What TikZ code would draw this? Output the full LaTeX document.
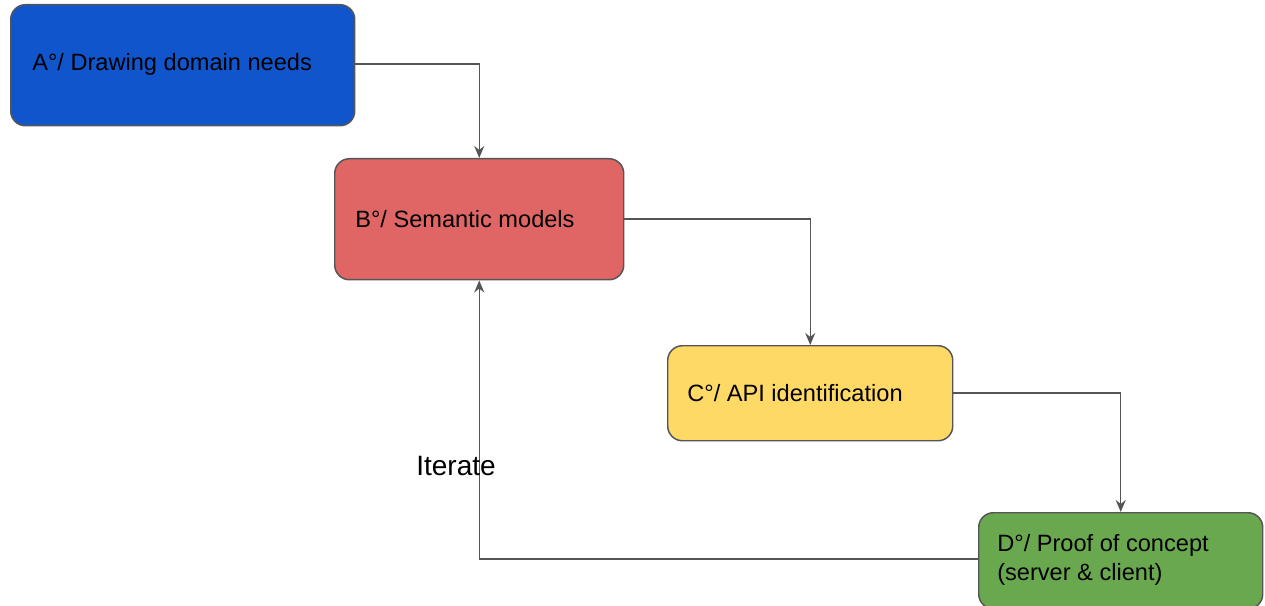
\documentclass[tikz,border=0pt]{standalone}
\usepackage{fontspec}
\setmainfont{Liberation Sans}
\usetikzlibrary{arrows.meta}
\definecolor{cA}{HTML}{1155CC}
\definecolor{cB}{HTML}{E06666}
\definecolor{cC}{HTML}{FFD966}
\definecolor{cD}{HTML}{6AA84F}
\definecolor{lineg}{HTML}{555555}
\tikzset{
  box/.style={draw=lineg, line width=1.1pt, rounded corners=11pt, anchor=north west,
    inner sep=0pt},
  lbl/.style={anchor=west, inner sep=0pt, align=left, text=black,
    font=\fontsize{17.7}{21.75}\selectfont},
  conn/.style={draw=lineg, line width=1.1pt, -{Stealth[length=9pt,width=7.5pt]}},
}
\begin{document}
\begin{tikzpicture}[x=0.75pt,y=-0.75pt]
\useasboundingbox[fill=white] (0,0) rectangle (1265,606);
\node[box, fill=cA, minimum width=258pt, minimum height=90.75pt] (A) at (10,4) {};
\node[lbl] (At) at (32,64) {A°/ Drawing domain needs};
\node[box, fill=cB, minimum width=216.75pt, minimum height=90.75pt] (B) at (334,158) {};
\node[lbl] (Bt) at (355,219) {B°/ Semantic models};
\node[box, fill=cC, minimum width=213.75pt, minimum height=71.25pt] (C) at (667,345) {};
\node[lbl] (Ct) at (687,393) {C°/ API identification};
\node[box, fill=cD, minimum width=213pt, minimum height=72pt] (D) at (978,512) {};
\node[lbl] (Dt) at (997,560) {D°/ Proof of concept\\(server \& client)};
\coordinate (a1) at (354,64);
\coordinate (b1) at (623,219);
\coordinate (c1) at (952,393);
\coordinate (d1) at (978,559);
\draw[conn] (a1) -| (B.north);
\draw[conn] (b1) -| (C.north);
\draw[conn] (c1) -| (D.north);
\draw[conn] (d1) -| (B.south);
\node[font=\fontsize{21}{24}\selectfont, inner sep=0pt] (it) at (456,466) {Iterate};
\end{tikzpicture}
\end{document}
